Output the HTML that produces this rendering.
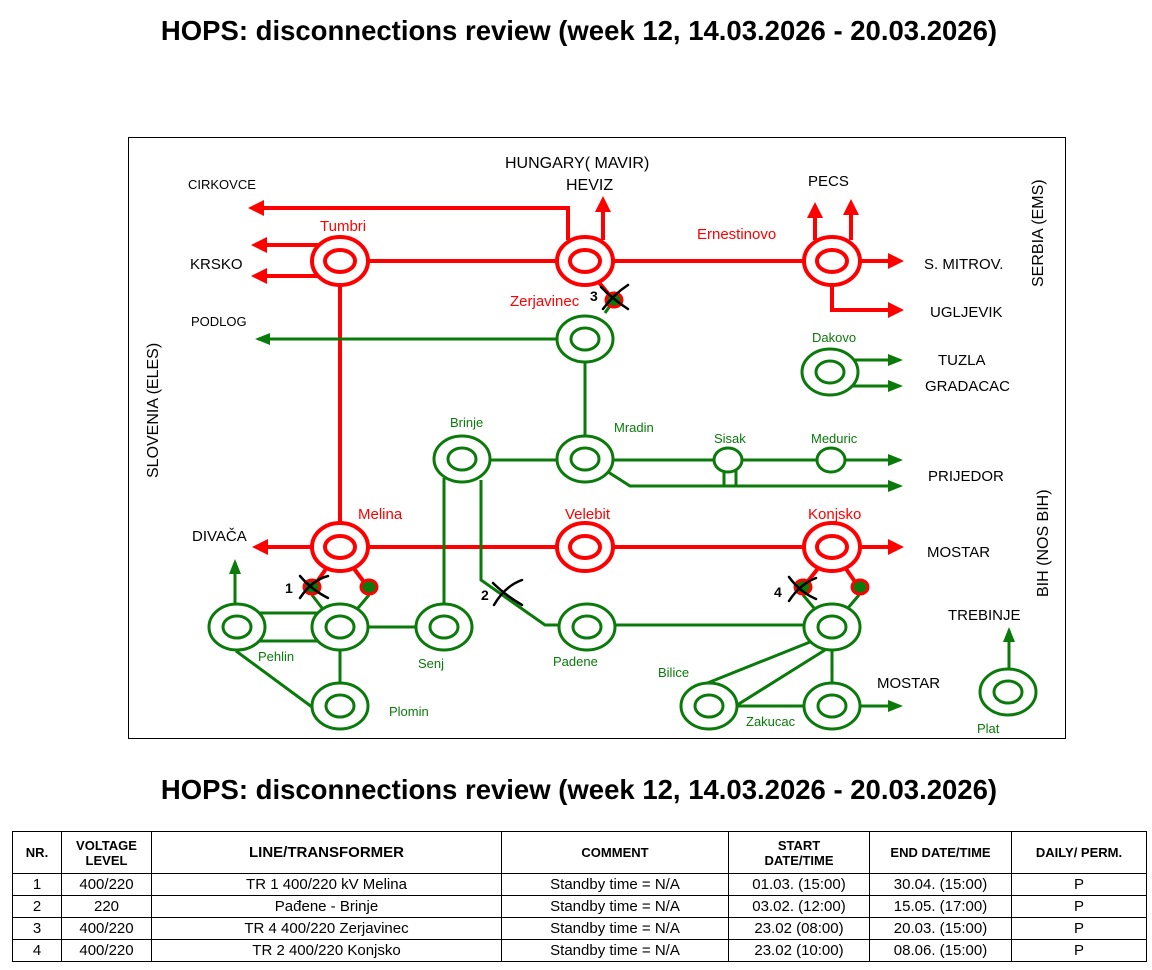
<!DOCTYPE html>
<html><head><meta charset="utf-8"><style>
body{margin:0;width:1152px;height:970px;background:#fff;overflow:hidden;font-family:"Liberation Sans",Arial,sans-serif}
svg{position:absolute;left:0;top:0}
table{position:absolute;left:12px;top:831px;border-collapse:collapse;font-size:15px;font-family:"Liberation Sans",sans-serif}
td,th{border:1px solid #000;text-align:center;padding:0;height:21px;line-height:15px}
th{font-size:13px;font-weight:bold;height:41px}
</style></head><body>
<svg width="1152" height="830" font-family="Liberation Sans, Arial, sans-serif">
<defs>
<marker id="ar" markerWidth="4" markerHeight="4" refX="3" refY="2" orient="auto" markerUnits="strokeWidth"><path d="M0,0L4,2L0,4z" fill="#f00"/></marker>
<marker id="ag" markerWidth="5" markerHeight="4" refX="4" refY="2" orient="auto" markerUnits="strokeWidth"><path d="M0,0L5,2L0,4z" fill="#0a7a0a"/></marker>
</defs>
<text x="579" y="40" text-anchor="middle" font-size="27.5" font-weight="bold">HOPS: disconnections review (week 12, 14.03.2026 - 20.03.2026)</text>
<text x="579" y="799" text-anchor="middle" font-size="27.5" font-weight="bold">HOPS: disconnections review (week 12, 14.03.2026 - 20.03.2026)</text>
<rect x="128.5" y="137.5" width="937" height="601" fill="none" stroke="#000" stroke-width="1"/>
<g stroke="#f00" stroke-width="4" fill="none">
<path d="M568,240V208H252" marker-end="url(#ar)"/>
<path d="M603,240V200" marker-end="url(#ar)"/>
<path d="M318,245H255" marker-end="url(#ar)"/>
<path d="M318,276H255" marker-end="url(#ar)"/>
<path d="M340,261H585M585,261H832M340,261V547M340,547H832"/>
<path d="M815,240V206" marker-end="url(#ar)"/>
<path d="M851,240V203" marker-end="url(#ar)"/>
<path d="M855,261H900" marker-end="url(#ar)"/>
<path d="M832,280V310H900" marker-end="url(#ar)"/>
<path d="M318,547H256" marker-end="url(#ar)"/>
<path d="M855,547H900" marker-end="url(#ar)"/>
<path d="M328,566L314,586M352,566L367,586M596,279L612,298M820,566L804,586M844,566L858,586"/>
</g>
<g stroke="#0a7a0a" stroke-width="3" fill="none">
<path d="M585,339H258" marker-end="url(#ag)"/>
<path d="M585,339V459M605,313L614,300M462,460H585M585,460H900" marker-end="url(#ag)"/>
<path d="M605,470L630,486H900" marker-end="url(#ag)"/>
<path d="M724,470V486M736,470V486"/>
<path d="M850,360H900" marker-end="url(#ag)"/>
<path d="M850,386H900" marker-end="url(#ag)"/>
<path d="M235,605V562" marker-end="url(#ag)"/>
<path d="M258,613H320M258,641H320M340,627H443M340,650V707M236,651L312,707M444,627V478M481,480V580L545,625H587M587,625H832"/>
<path d="M312,595L322,608M369,595L358,608M803,595L814,608M859,595L848,608"/>
<path d="M815,640L700,686M825,650L718,717M709,706H832M832,650V706"/>
<path d="M855,706H900" marker-end="url(#ag)"/>
<path d="M1009,668V630" marker-end="url(#ag)"/>
</g>
<g fill="#fff" stroke-width="4">
<g stroke="#f00">
<ellipse cx="340" cy="261" rx="28" ry="24"/><ellipse cx="340" cy="261" rx="15" ry="11"/>
<ellipse cx="585" cy="261" rx="28" ry="24"/><ellipse cx="585" cy="261" rx="15" ry="11"/>
<ellipse cx="832" cy="261" rx="28" ry="24"/><ellipse cx="832" cy="261" rx="15" ry="11"/>
<ellipse cx="340" cy="547" rx="28" ry="24"/><ellipse cx="340" cy="547" rx="15" ry="11"/>
<ellipse cx="585" cy="547" rx="28" ry="24"/><ellipse cx="585" cy="547" rx="15" ry="11"/>
<ellipse cx="832" cy="547" rx="28" ry="24"/><ellipse cx="832" cy="547" rx="15" ry="11"/>
</g>
<g stroke="#0a7a0a" stroke-width="3">
<ellipse cx="585" cy="339" rx="28" ry="23"/><ellipse cx="585" cy="339" rx="14" ry="11"/>
<ellipse cx="585" cy="459" rx="28" ry="23"/><ellipse cx="585" cy="459" rx="14" ry="11"/>
<ellipse cx="462" cy="459" rx="28" ry="23"/><ellipse cx="462" cy="459" rx="14" ry="11"/>
<ellipse cx="830" cy="372" rx="28" ry="23"/><ellipse cx="830" cy="372" rx="14" ry="11"/>
<ellipse cx="728" cy="460" rx="14" ry="12"/><ellipse cx="831" cy="460" rx="14" ry="12"/>
<ellipse cx="237" cy="627" rx="28" ry="23"/><ellipse cx="237" cy="627" rx="14" ry="11"/>
<ellipse cx="340" cy="627" rx="28" ry="23"/><ellipse cx="340" cy="627" rx="14" ry="11"/>
<ellipse cx="444" cy="627" rx="28" ry="23"/><ellipse cx="444" cy="627" rx="14" ry="11"/>
<ellipse cx="587" cy="627" rx="28" ry="23"/><ellipse cx="587" cy="627" rx="14" ry="11"/>
<ellipse cx="832" cy="627" rx="28" ry="23"/><ellipse cx="832" cy="627" rx="14" ry="11"/>
<ellipse cx="340" cy="706" rx="28" ry="23"/><ellipse cx="340" cy="706" rx="14" ry="11"/>
<ellipse cx="709" cy="706" rx="28" ry="23"/><ellipse cx="709" cy="706" rx="14" ry="11"/>
<ellipse cx="832" cy="706" rx="28" ry="23"/><ellipse cx="832" cy="706" rx="14" ry="11"/>
<ellipse cx="1008" cy="692" rx="28" ry="23"/><ellipse cx="1008" cy="692" rx="14" ry="11"/>
</g>
<g stroke="#f00" stroke-width="3" fill="#0a7a0a">
<ellipse cx="614" cy="300" rx="8" ry="7"/>
<ellipse cx="312" cy="587" rx="8" ry="7"/><ellipse cx="369" cy="587" rx="8" ry="7"/>
<ellipse cx="803" cy="587" rx="8" ry="7"/><ellipse cx="860" cy="587" rx="8" ry="7"/>
</g>
</g>
<g stroke="#000" stroke-width="2.5" fill="none" stroke-linecap="round">
<path d="M601,287Q614,300 628,309M603,309Q614,294 628,285"/>
<path d="M300,576Q312,590 328,598M300,598Q312,580 328,576"/>
<path d="M493,583Q505,595 522,605M494,605Q505,586 522,580"/>
<path d="M789,577Q800,592 816,599M789,601Q800,584 816,578"/>
</g>
<g font-size="14" font-weight="bold">
<text x="590" y="301">3</text><text x="285" y="593">1</text><text x="481" y="600">2</text><text x="774" y="597">4</text>
</g>
<g font-size="15" fill="#000">
<text x="188" y="189" font-size="13">CIRKOVCE</text>
<text x="190" y="269">KRSKO</text>
<text x="191" y="326" font-size="13">PODLOG</text>
<text x="505" y="168" font-size="16">HUNGARY( MAVIR)</text>
<text x="566" y="190" font-size="16">HEVIZ</text>
<text x="808" y="186">PECS</text>
<text x="924" y="269">S. MITROV.</text>
<text x="930" y="317">UGLJEVIK</text>
<text x="938" y="365">TUZLA</text>
<text x="925" y="391">GRADACAC</text>
<text x="928" y="481">PRIJEDOR</text>
<text x="927" y="557">MOSTAR</text>
<text x="948" y="620">TREBINJE</text>
<text x="877" y="688">MOSTAR</text>
<text x="192" y="541">DIVAČA</text>
<text transform="translate(1043,287) rotate(-90)" font-size="16">SERBIA (EMS)</text>
<text transform="translate(1048,597) rotate(-90)" font-size="16">BIH (NOS BIH)</text>
<text transform="translate(158,478) rotate(-90)" font-size="16">SLOVENIA (ELES)</text>
</g>
<g fill="#f00" font-size="15">
<text x="320" y="231">Tumbri</text>
<text x="510" y="306">Zerjavinec</text>
<text x="697" y="239">Ernestinovo</text>
<text x="358" y="519">Melina</text>
<text x="565" y="519">Velebit</text>
<text x="808" y="519">Konjsko</text>
</g>
<g fill="#0a7a0a" font-size="13">
<text x="812" y="342">Dakovo</text>
<text x="450" y="427">Brinje</text>
<text x="614" y="432">Mradin</text>
<text x="714" y="443">Sisak</text>
<text x="811" y="443">Meduric</text>
<text x="258" y="661">Pehlin</text>
<text x="418" y="668">Senj</text>
<text x="553" y="666">Padene</text>
<text x="389" y="716">Plomin</text>
<text x="658" y="677">Bilice</text>
<text x="746" y="726">Zakucac</text>
<text x="977" y="733">Plat</text>
</g>
</svg>
<table>
<tr><th style="width:48px">NR.</th><th style="width:89px">VOLTAGE<br>LEVEL</th><th style="width:349px;font-size:15px">LINE/TRANSFORMER</th><th style="width:226px">COMMENT</th><th style="width:140px">START<br>DATE/TIME</th><th style="width:141px">END DATE/TIME</th><th style="width:134px">DAILY/ PERM.</th></tr>
<tr><td>1</td><td>400/220</td><td>TR 1 400/220 kV Melina</td><td>Standby time = N/A</td><td>01.03. (15:00)</td><td>30.04. (15:00)</td><td>P</td></tr>
<tr><td>2</td><td>220</td><td>Pađene - Brinje</td><td>Standby time = N/A</td><td>03.02. (12:00)</td><td>15.05. (17:00)</td><td>P</td></tr>
<tr><td>3</td><td>400/220</td><td>TR 4 400/220 Zerjavinec</td><td>Standby time = N/A</td><td>23.02 (08:00)</td><td>20.03. (15:00)</td><td>P</td></tr>
<tr><td>4</td><td>400/220</td><td>TR 2 400/220 Konjsko</td><td>Standby time = N/A</td><td>23.02 (10:00)</td><td>08.06. (15:00)</td><td>P</td></tr>
</table>
</body></html>
